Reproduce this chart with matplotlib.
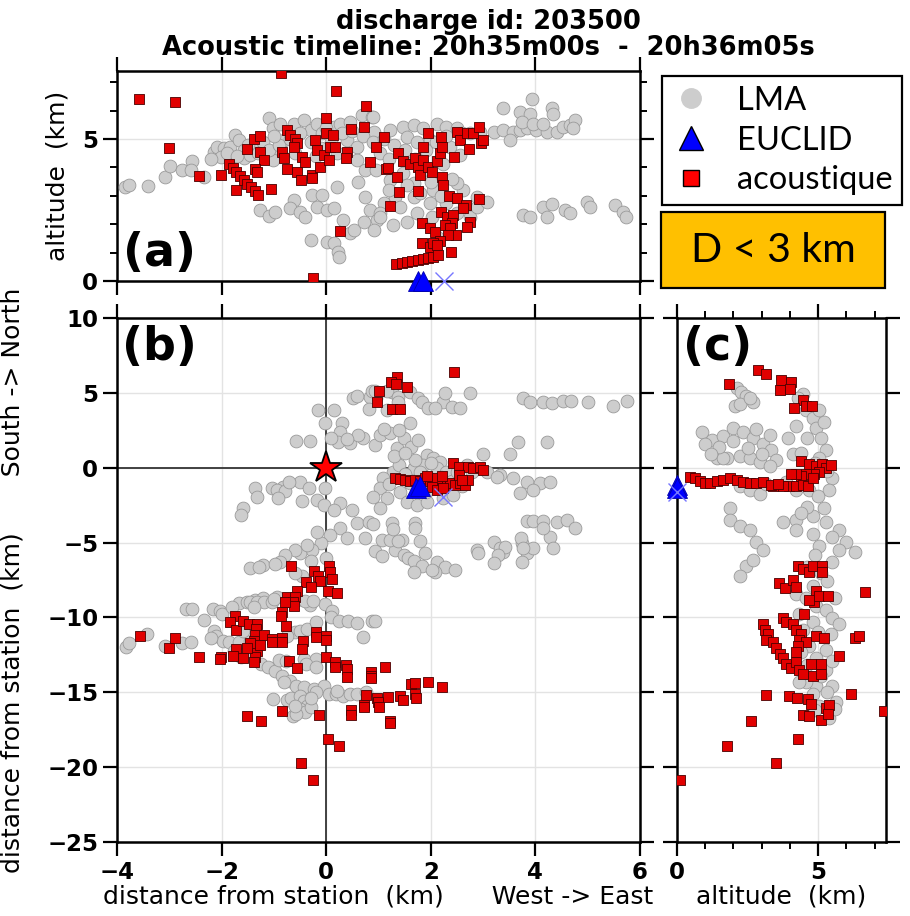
import matplotlib
matplotlib.use("Agg")
import matplotlib.pyplot as plt
from matplotlib.lines import Line2D
from matplotlib.patches import Rectangle
from matplotlib.ticker import MultipleLocator

# ---------------- data (km) ----------------
# panel (a): x = West->East, z = altitude
lma_a = [(-3.84,3.32),(-3.78,3.38),(-3.41,3.36),(-3.09,3.67),(-2.98,4.05),(-2.76,3.91),(-2.57,4.23),(-2.59,3.91),(-2.34,3.65),
         (-2.15,4.55),(-2.09,4.73),(-1.96,4.67),(-2.02,4.38),(-1.83,4.73),(-1.74,5.14),(-1.67,4.96),(-1.58,4.61),(-1.58,4.32),
         (-1.45,4.44),(-1.32,4.73),(-1.20,4.91),(-1.10,5.73),(-1.01,5.38),(-0.94,4.61),(-0.88,5.55),(-0.81,4.96),(-1.01,4.26),
         (-0.62,5.55),(-0.43,5.67),(-0.30,5.32),(-0.18,5.55),(-0.08,5.20),(0.14,5.43),(0.27,5.55),(0.40,4.96),(0.46,5.61),
         (0.59,4.73),(0.68,5.84),(0.88,5.78),(0.91,5.26),(0.59,4.26),(0.75,3.91),(0.75,2.97),
         (-0.27,3.03),(-0.08,3.03),(-0.62,2.85),(-0.69,2.56),(-0.50,2.44),(-0.40,2.26),(-0.18,2.62),(0.02,2.50),(0.14,2.59),
         (-1.26,2.50),(-1.10,2.30),(-0.97,2.44),(-0.30,1.44),(0.02,1.38),(0.14,1.33),(0.22,1.03),(0.24,0.86),(0.33,2.15),
         (0.46,1.68),(0.53,1.80),(0.72,2.09),(0.84,2.50),(0.97,2.15),(0.91,1.80),(1.10,2.74),(1.03,2.38),
         (0.90,5.78),(1.22,5.32),(1.47,5.43),(1.67,5.49),(1.86,5.38),(2.11,5.55),(2.30,5.43),(2.50,5.38),(1.54,5.08),
         (1.73,4.91),(1.98,4.96),(2.37,4.73),(2.56,4.44),(2.24,4.14),(1.98,3.67),(1.86,3.91),(1.47,3.79),(1.22,3.56),
         (0.96,3.91),(1.03,4.50),
         (2.75,5.20),(2.94,5.26),(3.20,5.26),(3.39,5.32),(3.58,5.26),(3.71,5.32),(3.83,5.38),(4.02,5.32),(4.22,5.26),
         (4.41,5.26),(4.53,5.43),(4.66,5.49),(4.76,5.67),(4.72,5.38),(3.51,4.96),(3.39,6.08),(3.71,5.96),(3.90,5.90),
         (3.93,6.40),(4.31,6.08),(4.34,5.90),(3.74,5.61),(3.96,5.55),(4.15,5.55),
         (3.77,2.32),(3.90,2.26),(4.15,2.62),(4.22,2.26),(4.31,2.71),(4.57,2.50),(4.66,2.38),(4.98,2.79),(5.04,2.62),
         (5.52,2.68),(5.68,2.44),(5.74,2.26),
         (1.03,2.26),(1.28,1.97),(1.54,2.09),(1.73,2.38),(2.02,2.26),(1.99,2.74),(1.67,2.97),(1.32,2.97),(1.41,2.62),
         (2.50,2.38),(2.75,2.26),(2.88,2.62),(3.07,2.79),(2.88,2.97),(2.62,3.20),(2.50,3.44),(2.05,3.20),(2.30,2.74),
         (1.67,3.44),(1.54,3.38),(2.11,1.56),
         (-1.9,4.5),(-1.7,4.4),(-1.5,4.8),(-1.3,4.5),(-1.1,4.6),(-0.9,4.8),(-0.7,5.0),(-0.5,5.2),(-0.3,4.9),(-0.1,4.7),
         (0.1,4.9),(0.3,5.2),(0.5,5.3),(0.7,5.1),(0.9,4.9),(1.1,5.0),(1.3,4.8),(1.5,4.6),(1.7,4.3),(1.9,4.6),(2.1,4.9),
         (2.3,5.1),(-0.6,4.5),(-0.2,4.4),(0.2,4.5),(1.2,4.3),(-2.2,4.3),(-1.0,5.1),(0.0,5.4),(2.6,5.2),(2.0,3.5),
         (2.2,3.0),(1.8,3.1),(1.2,3.2),(0.6,3.5),(0.2,3.3),(2.4,3.6)]

aco_a = [(-3.57,6.40),(-2.90,6.30),(-3.01,4.69),(-2.44,3.71),(-2.02,3.73),
         (-1.86,4.11),(-1.79,3.98),(-1.72,3.84),(-1.65,3.70),(-1.58,3.57),(-1.51,3.43),(-1.44,3.30),(-1.37,3.16),(-1.30,3.03),
         (-1.72,3.20),(-1.39,4.99),(-1.26,5.11),(-1.51,4.66),(-1.26,4.54),(-1.19,4.26),(-1.37,3.95),(-1.32,3.83),(-1.06,3.25),
         (-0.86,7.33),(-0.75,5.32),(-0.69,5.14),(-0.59,5.02),(-0.56,4.85),(-0.62,4.73),(-0.85,4.55),(-0.81,4.32),(-0.75,3.94),
         (-0.56,3.85),(-0.49,3.56),(-0.46,4.36),(-0.40,4.20),(-0.27,3.73),(-0.27,3.62),
         (-0.21,4.96),(-0.18,4.61),(-0.11,4.02),(-0.05,4.44),(0.00,5.73),(0.00,5.20),(0.13,5.14),(0.08,4.73),(0.17,4.73),
         (0.05,4.26),(0.19,6.68),(0.26,1.75),(-0.25,0.09),
         (0.40,4.55),(0.38,4.32),(0.48,5.34),(0.73,5.41),(0.77,6.16),(0.84,4.20),(0.96,4.71),(1.10,5.08),(1.14,3.96),
         (1.38,4.50),(1.19,3.97),(1.35,3.65),(1.40,3.15),(1.22,2.64),(1.46,4.24),
         (1.61,4.14),(1.70,4.32),(1.76,4.02),(1.79,3.73),(1.86,4.26),(1.86,4.73),(1.95,5.22),(1.95,4.02),(2.02,3.85),
         (2.11,4.24),(2.18,4.50),(2.21,4.73),(2.20,5.08),(2.51,5.26),(2.55,4.96),(2.70,5.22),(2.80,5.20),(2.93,5.43),
         (2.96,4.85),(3.00,4.96),(2.73,4.65),(2.44,4.38),(1.76,3.18),(2.21,3.67),(2.23,3.38),
         (2.35,2.99),(2.50,2.93),(2.67,2.68),(2.93,2.88),(2.61,2.59),(2.19,2.44),(2.31,2.26),(2.43,2.32),(2.40,2.05),
         (2.27,1.97),(2.37,1.86),(2.48,1.62),(2.33,1.62),(2.74,2.09),(2.70,1.91),(1.83,2.03),(1.99,1.86),(2.08,1.74),
         (2.18,1.42),(1.83,1.33),(1.99,1.21),(2.04,1.33),(2.11,1.27),(2.39,1.03),
         (1.34,0.60),(1.45,0.63),(1.55,0.67),(1.65,0.70),(1.75,0.74),(1.85,0.78),(1.95,0.82),(2.05,0.86),(2.14,0.90)]

# panel (b): x = West->East, y = South->North
lma_b = [(-0.31,1.78),(0.14,3.85),(0.30,2.96),(0.26,2.41),(0.23,1.74),(0.46,1.63),(0.71,1.96),(0.93,1.52),(1.03,2.18),
         (1.22,2.29),(1.35,1.29),(1.48,1.96),(1.60,2.96),(1.63,1.40),(1.76,1.85),(1.92,0.85),(2.05,0.62),(2.18,0.40),
         (0.96,4.63),(0.84,4.74),(1.25,5.08),(1.60,5.08),(1.76,4.63),(2.24,4.41),(2.40,4.07),(2.56,3.96),(2.75,4.96),
         (1.16,3.85),(3.77,4.63),(3.90,4.41),(4.15,4.36),(4.31,4.30),(4.53,4.46),(4.69,4.46),(5.01,4.41),(5.49,4.14),
         (5.75,4.46),(4.22,1.74),(3.51,0.89),
         (1.28,-0.27),(1.09,-0.71),(1.03,-1.38),(0.90,-1.94),(1.16,-2.05),(1.41,-1.60),(1.54,-2.27),(1.73,-2.49),
         (1.92,-2.27),(2.24,-2.05),(2.43,-1.82),(1.48,-0.71),(1.67,-0.04),(1.86,0.18),(2.11,-0.04),(2.30,-0.27),
         (2.69,0.18),(3.07,-0.27),(3.32,-0.49),(3.58,-0.71),(3.83,-0.94),(4.09,-1.05),(4.28,-0.94),(3.96,-1.49),
         (3.71,-1.72),(3.26,-0.60),(2.78,-0.27),
         (4.41,-3.61),(4.60,-3.49),(4.76,-4.05),(4.28,-4.61),(4.34,-5.39),(3.74,-5.06),(3.83,-5.72),(3.96,-5.39),
         (3.74,-6.28),(3.39,-5.61),
         (1.25,-3.72),(1.70,-3.72),(1.70,-4.05),(1.44,-4.83),(1.79,-4.90),(1.32,-5.50),(1.89,-5.72),(2.11,-6.28),
         (2.27,-6.61),(2.46,-6.84),(2.08,-6.95),(0.74,-4.72),(1.03,-2.72),(0.49,-2.83),(0.26,-2.38),(0.58,-3.72),
         (0.81,-3.61),(0.26,-4.05),(0.07,-4.50),(-0.09,-5.06),(-0.28,-5.50),(-0.50,-5.72),(-0.82,-1.27),(-0.50,-0.98),
         (-0.18,-2.16),(-0.02,-1.38),
         (-1.36,-1.38),(-1.33,-1.94),(-1.59,-2.72),(-1.62,-3.16),(-1.04,-1.34),(-0.95,-1.49),(-0.79,-1.56),(-0.72,-0.94),
         (-0.92,-2.00),(-0.47,-2.23),(-0.32,-1.34),(-0.58,1.78),(-0.15,3.85),(-0.02,2.96),(-0.04,-2.49),(0.14,-2.83),
         (0.39,-4.72),(-0.18,-4.28),(-0.37,-5.17),(-0.60,-5.50),(-0.79,-5.83),(-1.46,-6.73),(-1.20,-6.50),(-0.88,-6.28),
         (-1.66,-9.06),(-1.52,-8.95),(-1.36,-8.84),(-1.20,-8.73),(-0.56,-8.84),(-0.31,-9.17),(-2.68,-9.44),(-2.17,-9.44),
         (3.00,0.89),(3.66,1.69),(2.27,4.96),(1.83,4.41),(1.95,3.96),(2.08,4.01),(0.52,4.68),(0.58,4.79),(0.81,3.92),
         (0.87,5.12),(0.93,5.14),(1.16,5.12),(1.38,4.74),(1.38,4.41),
         (3.83,-3.56),(3.96,-3.56),(4.15,-3.56),(4.15,-4.05),(3.72,-4.68),(3.77,-5.39),(3.20,-4.94),(3.32,-5.39),
         (3.42,-5.28),(3.29,-5.83),(3.20,-6.39),(2.88,-5.50),(2.91,-5.72),(1.48,-5.83),(1.57,-6.06),(1.67,-6.23),
         (1.83,-6.55),(2.02,-6.84),(1.67,-6.99),(0.93,-5.57),(1.06,-5.88),(1.06,-4.83),(1.22,-4.83),(1.38,-4.90),
         (1.28,-4.10),(0.89,-3.76),
         (-3.83,-11.96),(-3.77,-11.74),(-3.42,-11.11),(-3.09,-11.89),(-2.75,-11.74),(-2.58,-11.67),(-2.56,-9.44),
         (-2.34,-10.18),(-2.15,-10.89),(-2.03,-9.55),(-2.00,-9.78),(-2.10,-11.22),(-1.97,-11.56),(-1.86,-11.67),
         (-1.76,-12.23),(-1.62,-12.67),(-1.52,-12.23),(-1.45,-9.00),(-1.32,-9.00),(-1.18,-9.00),(-1.04,-9.00),
         (-0.94,-8.66),(-1.39,-9.33),(-1.66,-11.67),(-1.45,-11.56),
         (-1.25,-13.12),(-1.11,-13.34),(-0.98,-13.56),(-0.84,-13.90),(-0.70,-14.23),(-0.57,-14.57),(-0.43,-14.63),
         (-0.23,-14.79),(-0.05,-14.57),(0.05,-15.12),(0.18,-15.12),(0.32,-15.23),(0.46,-15.12),(0.59,-15.12),
         (0.76,-15.01),(-1.02,-15.46),(-0.74,-15.52),(-0.67,-15.35),(-0.50,-15.23),(-0.43,-15.57),(-0.36,-15.90),
         (-0.50,-16.12),(-0.40,-16.35),(-0.63,-16.57),(-0.57,-16.46),(-0.29,-16.01),
         (-0.91,-12.85),(-0.77,-12.90),(-0.43,-12.78),(-0.19,-12.78),(-0.39,-13.12),(-0.19,-13.30),(-0.60,-11.00),
         (-0.50,-10.89),(-0.36,-10.78),(-0.19,-10.33),(-0.74,-11.22),(-0.02,-9.11),(0.12,-9.55),(0.09,-10.00),
         (0.25,-10.22),(0.42,-10.22),(0.59,-10.40),(0.87,-10.22),(0.94,-10.22),(0.71,-11.34),(-0.46,-7.22),
         (-0.40,-8.89),(-0.26,-8.89),(-1.28,-6.66),(-0.98,-6.44),
         (1.4,0.2),(1.5,-0.4),(1.6,-1.0),(1.7,0.5),(1.8,-0.3),(1.9,-1.6),(2.0,0.3),(2.2,-0.6),(2.4,-0.9),(2.5,-0.3),
         (1.3,0.8),(1.5,1.0),(1.2,-1.1),(2.6,-1.2),(1.1,2.6),(1.4,2.5),(0.6,2.2),(0.4,1.9),(0.1,2.0),(-0.6,-7.0),
         (-0.3,-6.2),(0.0,-6.0),(-1.0,-8.8),(-1.6,-10.9),(-1.4,-12.0),(-1.8,-9.3),(-2.2,-11.4),(-0.2,-15.0),
         (0.2,-14.9),(-0.8,-14.3),(-0.6,-15.9),(-0.3,-15.4)]

aco_b = [(1.35,6.08),(1.24,5.74),(1.33,5.57),(1.55,5.36),(1.00,5.12),(0.98,4.41),(1.25,3.90),(1.42,3.92),(2.44,6.41),
         (1.32,-0.71),(1.41,-0.76),(1.51,-0.82),(1.60,-0.87),(1.70,-0.82),(1.79,-0.89),(1.89,-0.71),(1.98,-0.87),
         (2.08,-0.94),(2.18,-1.05),(2.27,-1.16),(2.37,-1.05),(2.46,-1.16),(2.56,-1.05),(2.65,-1.16),(2.72,-0.82),
         (2.43,0.29),(2.53,0.07),(2.72,0.07),(2.81,-0.04),(2.94,0.07),(3.00,-0.16),(1.92,-0.53),(2.11,-0.71),
         (2.21,-0.53),(2.02,-1.27),(2.11,-1.49),(2.24,-1.38),(2.53,-0.49),(2.59,-0.82),
         (-0.67,-6.55),(-0.23,-6.88),(-0.16,-7.22),(0.05,-6.55),(0.08,-6.99),(0.12,-7.44),(-0.12,-7.55),(-0.38,-7.66),
         (-0.29,-8.00),(0.03,-8.26),(0.20,-8.37),(-0.55,-8.22),(-0.74,-8.62),(-0.60,-8.66),(-0.63,-9.00),(-0.62,-9.22),
         (-0.78,-9.00),(-0.85,-9.67),(-0.87,-9.89),(-0.76,-10.56),(-1.75,-9.89),(-1.83,-10.33),(-1.73,-10.85),
         (-1.60,-10.22),(-1.47,-10.45),(-1.32,-10.45),(-1.34,-10.78),(-1.37,-11.16),(-1.39,-11.56),(-1.32,-12.23),
         (-1.37,-12.67),(-1.39,-13.01),(-1.18,-11.16),(-1.26,-11.83),(-1.45,-11.74),(-1.51,-12.05),(-1.73,-12.12),
         (-1.78,-12.56),(-1.59,-12.74),(-1.04,-11.45),(-1.03,-11.67),(-0.84,-11.38),(-0.84,-11.67),(-0.44,-11.56),
         (-0.46,-12.12),(-0.20,-11.00),(-0.20,-11.29),(0.00,-11.22),(0.00,-11.51),(0.00,-12.63),(0.16,-13.01),
         (0.16,-13.30),(0.38,-13.16),(0.39,-13.45),(0.40,-13.96),(0.85,-13.67),(0.86,-13.90),(0.86,-14.05),
         (1.12,-13.30),(-0.72,-12.94),(-0.55,-13.39),(-2.01,-12.67),(-2.03,-12.81),(-2.44,-12.63),(-3.01,-12.05),
         (-2.90,-11.38),(-3.56,-11.27),(0.76,-15.17),(0.73,-15.84),(0.73,-15.97),(0.97,-15.39),(0.99,-15.68),
         (1.01,-15.97),(1.18,-15.30),(1.41,-15.23),(1.47,-15.52),(1.62,-14.45),(1.69,-14.41),(1.69,-15.12),
         (1.71,-15.35),(1.95,-14.28),(2.22,-14.68),(1.22,-16.90),(1.22,-17.08),(0.48,-16.17),(0.48,-16.50),
         (-0.13,-16.50),(-0.85,-16.28),(-1.51,-16.61),(-1.25,-16.90),(0.03,-18.13),(0.25,-18.60),(-0.48,-19.73),
         (-0.25,-20.87)]

# panel (c): x = altitude, y = South->North
lma_c = [(2.11,5.35),(2.28,5.08),(2.46,4.81),(2.69,4.41),(2.05,4.14),(2.22,4.28),(2.58,4.68),
         (0.88,2.41),(1.23,1.87),(1.64,2.14),(1.99,2.67),(2.34,2.41),(2.69,2.01),(3.04,1.60),(3.34,1.20),(3.51,0.53),
         (1.41,0.67),(1.76,0.67),(2.22,0.80),(2.58,0.67),(2.93,0.40),(3.28,0.13),(2.22,-1.20),(2.58,-1.47),(2.93,-1.74),
         (3.16,-1.07),(1.87,-2.67),(1.87,-3.48),(2.22,-3.88),(2.58,-4.14),(2.81,-4.95),(3.04,-5.48),(2.46,-6.55),
         (2.22,-7.22),(2.69,-6.15),(1.64,0.67),
         (4.45,4.95),(4.57,3.88),(4.80,3.34),(4.92,2.67),(5.09,2.01),(5.27,1.20),(5.04,0.67),(4.68,-1.47),(4.22,-1.47),
         (3.86,-0.94),(4.10,0.94),(3.92,2.01),(4.22,2.81),(5.50,-0.67),(5.39,-1.47),(3.75,-3.61),(4.22,-3.48),
         (4.80,-3.21),(5.27,-3.61),(5.74,-4.14),(5.97,-4.95),(6.32,-5.61),(5.74,-5.48),(4.80,-4.41),(4.22,-4.14),
         (5.04,-5.21),(5.50,-6.28),
         (4.22,-8.42),(4.57,-8.69),(4.92,-9.22),(5.27,-9.49),(5.50,-10.03),(5.74,-10.43),(5.44,-11.10),(4.80,-10.29),
         (4.33,-9.76),(4.45,-10.83),(5.27,-12.17),(5.27,-13.50),(5.50,-14.57),(5.62,-15.64),(5.39,-16.71),(5.04,-15.91),
         (4.92,-14.57),(4.80,-15.11),(4.57,-14.30),(4.33,-14.30),(4.68,-11.90),(4.92,-12.70),(4.27,4.68),(5.04,3.88),
         (5.21,3.07),
         (1.0,1.6),(1.5,1.4),(2.0,1.8),(2.5,1.3),(3.0,0.9),(1.2,0.9),(2.8,2.6),(3.3,2.2),(4.6,2.0),(4.4,1.0),(4.9,0.3),
         (5.3,-0.2),(4.5,-0.8),(5.0,-1.9),(4.6,-2.6),(5.2,-2.7),(4.4,-3.0),(5.5,-4.6),(4.9,-5.8),(4.6,-6.6),(5.1,-7.0),
         (5.3,-7.6),(4.8,-7.9),(5.6,-8.7),(5.0,-11.0),(5.5,-12.9),(5.1,-13.9),(4.6,-13.2),(5.3,-15.0),(4.9,-16.2),
         (5.6,-16.1),(4.4,-12.3)]

aco_c = [(1.84,5.56),(2.87,6.55),(3.16,6.23),(3.69,5.88),(3.63,5.21),(4.04,5.70),(4.00,5.27),(4.45,4.55),(4.57,4.14),
         (4.78,4.09),(4.16,4.01),
         (4.39,0.45),(4.68,0.27),(4.92,0.13),(5.15,0.27),(5.27,0.00),(5.44,0.19),(5.04,-0.27),(4.86,-0.40),(4.57,-0.45),
         (4.39,-0.53),(4.22,-0.40),(4.04,-0.45),(3.98,-1.20),(3.75,-1.20),(3.40,-1.20),(4.22,-1.20),(4.45,-1.15),
         (4.63,-1.20),(4.80,-0.67),
         (0.47,-0.61),(0.64,-0.72),(0.82,-0.88),(1.00,-0.99),(1.17,-1.04),(1.41,-0.88),(1.64,-0.83),(1.87,-0.67),
         (2.11,-0.80),(2.34,-0.94),(2.58,-0.99),(2.81,-1.04),(3.04,-0.94),(3.34,-1.15),(3.57,-1.10),
         (4.27,-6.55),(4.45,-6.76),(4.68,-6.95),(4.80,-6.55),(5.15,-6.55),(5.15,-6.95),(3.61,-7.67),(3.81,-8.02),
         (4.10,-7.49),(4.22,-7.94),(4.92,-8.21),(4.86,-8.96),(4.68,-8.82),(5.04,-8.56),(5.33,-8.56),(6.67,-8.29),
         (4.51,-9.76),
         (3.04,-10.43),(3.10,-10.83),(3.22,-11.10),(3.16,-11.50),(3.40,-11.63),(3.51,-12.03),(3.63,-12.43),(3.75,-12.70),
         (3.86,-13.10),(4.04,-13.37),(3.75,-10.03),(3.86,-10.29),(4.10,-10.43),(4.22,-10.83),(4.39,-11.10),(4.33,-11.50),
         (4.57,-11.63),(4.27,-11.90),(4.22,-12.30),(4.22,-12.97),(4.33,-13.50),(4.45,-13.77),(4.74,-13.10),(4.80,-13.90),
         (5.09,-13.10),(5.09,-13.77),(4.92,-11.23),(5.21,-11.36),(5.74,-12.57),(6.32,-11.36),(6.44,-11.23),
         (3.14,-15.16),(3.96,-15.24),(4.24,-15.37),(4.63,-15.43),(4.74,-15.78),(4.45,-16.50),(4.66,-16.58),(5.09,-16.84),
         (5.27,-16.04),(5.39,-15.86),(5.33,-16.44),(6.15,-15.11),(7.32,-16.23),(2.63,-16.93),(4.30,-18.10),(1.76,-18.58),
         (3.51,-19.73),(0.12,-20.86)]

# EUCLID strokes (triangles) and the x-marked one
euclid_a = [(1.75, 0.0), (1.85, 0.0)]
euclid_b = [(1.72, -1.35), (1.80, -1.25)]
euclid_c = [(0.0, -1.15), (0.0, -1.35)]
cross_a = [(2.25, 0.0)]
cross_b = [(2.24, -1.94)]
cross_c = [(0.0, -1.65)]
station = (0.0, 0.0)

# ---------------- style ----------------
GREY_F, GREY_E = "#cdcdcd", "#9a9a9a"
RED_F, RED_E = "#e10000", "#4a0000"
LMA_S, ACO_S = 85, 42
BLUE = "#0000ff"

plt.rcParams["font.family"] = "DejaVu Sans"

fig = plt.figure(figsize=(9.10, 9.16), dpi=100)
W, H = 910.0, 916.0


def ax_px(l, t, r, b):
    return fig.add_axes([l / W, 1 - b / H, (r - l) / W, (b - t) / H])


ax_a = ax_px(117, 71, 640, 281)
ax_b = ax_px(117, 318, 640, 842)
ax_c = ax_px(677, 318, 886, 842)


def style(ax):
    for s in ax.spines.values():
        s.set_linewidth(1.8)
    ax.tick_params(which="major", direction="out", length=10, width=1.6,
                   top=True, right=True, labelsize=16.5)
    ax.tick_params(which="minor", direction="out", length=5, width=1.4,
                   top=True, right=True)
    for lab in ax.get_xticklabels() + ax.get_yticklabels():
        lab.set_fontweight("bold")
    ax.grid(True, which="major", color="#e3e3e3", lw=1.0)
    ax.set_axisbelow(True)


def scat(ax, pts, face, edge, size, marker):
    xs = [p[0] for p in pts]
    ys = [p[1] for p in pts]
    ax.scatter(xs, ys, s=size, marker=marker, c=face, edgecolors=edge,
               linewidths=0.6, zorder=3 if marker == "o" else 4)


def euclid(ax, tri, crs):
    ax.plot([p[0] for p in tri], [p[1] for p in tri], "^", ms=15, color=BLUE,
            mec="#0000aa", mew=0.6, ls="none", zorder=6, clip_on=False)
    ax.plot([p[0] for p in crs], [p[1] for p in crs], "x", ms=13, color="#7777ff",
            mew=1.0, ls="none", zorder=6, clip_on=False)


# (a)
scat(ax_a, lma_a, GREY_F, GREY_E, LMA_S, "o")
scat(ax_a, aco_a, RED_F, RED_E, ACO_S, "s")
euclid(ax_a, euclid_a, cross_a)
ax_a.set_xlim(-4, 6)
ax_a.set_ylim(0, 7.4)
ax_a.set_xticks([-4, -2, 0, 2, 4, 6])
ax_a.set_yticks([0, 5])
ax_a.yaxis.set_minor_locator(MultipleLocator(1))
ax_a.tick_params(labelbottom=False)
style(ax_a)
ax_a.set_ylabel("altitude  (km)", fontsize=18)
ax_a.yaxis.set_label_coords(-0.09, 0.5)
ax_a.text(0.012, 0.025, "(a)", transform=ax_a.transAxes, fontsize=33,
          fontweight="bold", ha="left", va="bottom", zorder=10)

# (b)
ax_b.axhline(0, color="#333333", lw=1.3, zorder=2)
ax_b.axvline(0, color="#333333", lw=1.3, zorder=2)
scat(ax_b, lma_b, GREY_F, GREY_E, LMA_S, "o")
scat(ax_b, aco_b, RED_F, RED_E, ACO_S, "s")
euclid(ax_b, euclid_b, cross_b)
ax_b.plot(*station, marker="*", ms=24, color="red", mec="black", mew=1.3, zorder=7)
ax_b.set_xlim(-4, 6)
ax_b.set_ylim(-25, 10)
ax_b.set_xticks([-4, -2, 0, 2, 4, 6])
ax_b.set_yticks([10, 5, 0, -5, -10, -15, -20, -25])
style(ax_b)
ax_b.set_xlabel("distance from station  (km)      West -> East", fontsize=18)
ax_b.xaxis.set_label_coords(0.5, -0.082)
ax_b.set_ylabel("distance from station  (km)       South -> North", fontsize=18)
ax_b.yaxis.set_label_coords(-0.176, 0.5)
ax_b.text(0.01, 0.987, "(b)", transform=ax_b.transAxes, fontsize=33,
          fontweight="bold", ha="left", va="top", zorder=10)

# (c)
scat(ax_c, lma_c, GREY_F, GREY_E, LMA_S, "o")
scat(ax_c, aco_c, RED_F, RED_E, ACO_S, "s")
euclid(ax_c, euclid_c, cross_c)
ax_c.set_xlim(0, 7.4)
ax_c.set_ylim(-25, 10)
ax_c.set_xticks([0, 5])
ax_c.xaxis.set_minor_locator(MultipleLocator(1))
ax_c.set_yticks([10, 5, 0, -5, -10, -15, -20, -25])
ax_c.tick_params(labelleft=False)
style(ax_c)
ax_c.set_xlabel("altitude  (km)", fontsize=18)
ax_c.xaxis.set_label_coords(0.5, -0.082)
ax_c.text(0.03, 0.987, "(c)", transform=ax_c.transAxes, fontsize=33,
          fontweight="bold", ha="left", va="top", zorder=10)

# title
fig.text(488 / W, 1 - 22 / H, "discharge id: 203500", ha="center", va="center",
         fontsize=18.5, fontweight="bold")
fig.text(488 / W, 1 - 48 / H, "Acoustic timeline: 20h35m00s  -  20h36m05s",
         ha="center", va="center", fontsize=18.5, fontweight="bold")

# legend
handles = [
    Line2D([], [], marker="o", ls="none", ms=14, mfc=GREY_F, mec=GREY_F),
    Line2D([], [], marker="^", ls="none", ms=17, mfc=BLUE, mec="black", mew=1.0),
    Line2D([], [], marker="s", ls="none", ms=11, mfc="red", mec="black", mew=1.0),
]
leg = fig.legend(handles, ["LMA", "EUCLID", "acoustique"], loc="upper left",
                 bbox_to_anchor=(662 / W, 1 - 76 / H), borderaxespad=0,
                 prop={"family": "Lato", "size": 23.5}, frameon=True, fancybox=False,
                 edgecolor="black", framealpha=1, handletextpad=0.8,
                 labelspacing=0.3, borderpad=0.3, handlelength=1.2)
leg.get_frame().set_linewidth(1.6)

# D < 3 km box
fig.patches.append(Rectangle((661 / W, 1 - 288 / H), 224 / W, 76 / H,
                             transform=fig.transFigure, facecolor="#ffc000",
                             edgecolor="black", lw=1.6))
fig.text(773 / W, 1 - 250 / H, "D < 3 km", ha="center", va="center",
         fontsize=29.5, family="Lato")

fig.savefig("out.png", dpi=100)
